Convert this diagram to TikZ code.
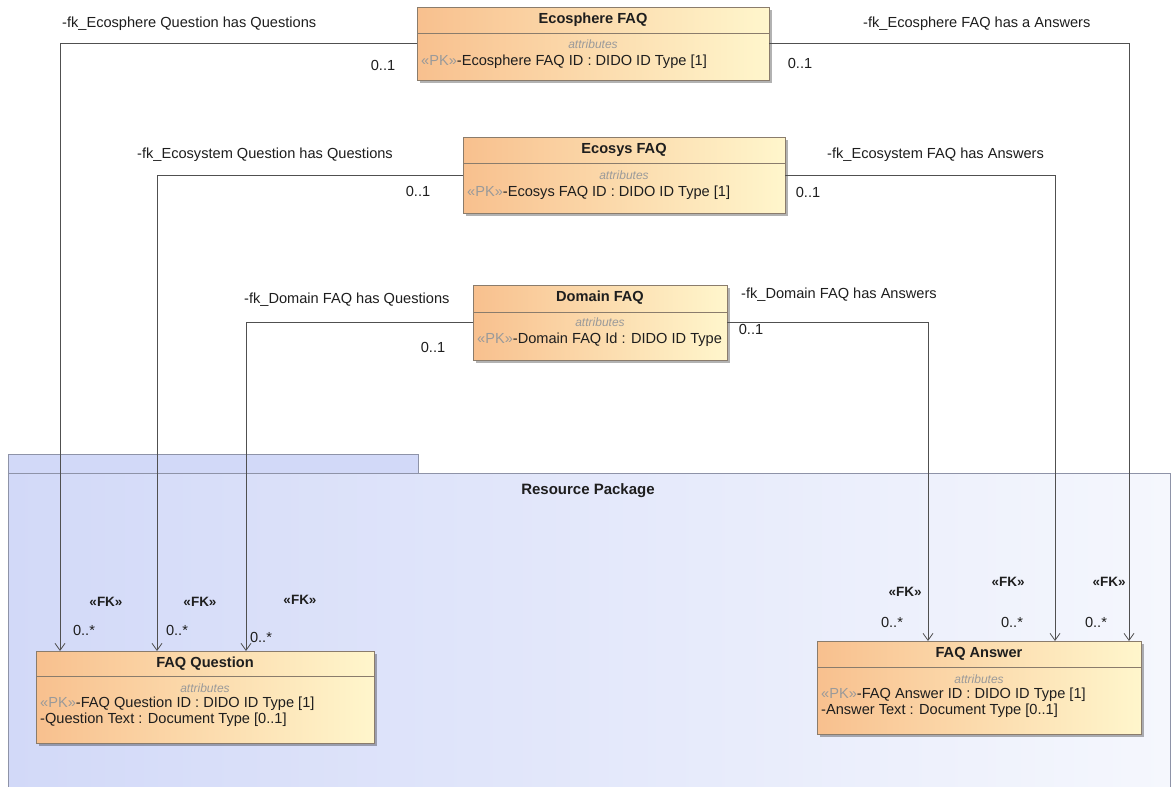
\documentclass[tikz,border=0pt]{standalone}
\usepackage{fontspec}
\setmainfont{Liberation Sans}
\usetikzlibrary{arrows.meta,shadows}
\definecolor{boxL}{HTML}{F8C08E}
\definecolor{boxR}{HTML}{FFF6CC}
\definecolor{boxline}{HTML}{8A7C6C}
\definecolor{pkgL}{HTML}{D2D9F8}
\definecolor{pkgR}{HTML}{F5F7FD}
\definecolor{pkgline}{HTML}{8E93A8}
\definecolor{txtgrey}{HTML}{9A9A9A}
\definecolor{txt}{HTML}{1E1E1E}
\definecolor{linegrey}{HTML}{505050}
\newcommand\pkmark{\textcolor{txtgrey}{«PK»}}
\begin{document}
\begin{tikzpicture}[x=1pt,y=-1pt,
  umlbox/.style={draw=boxline, line width=0.8pt, left color=boxL, right color=boxR,
    anchor=north west, inner sep=0pt, outer sep=0pt,
    drop shadow={shadow xshift=2.5pt, shadow yshift=-2.5pt, fill=black, opacity=0.3}},
  hdr/.style={draw=boxline, line width=0.8pt},
  boxtitle/.style={font=\bfseries\fontsize{14.6}{17}\selectfont, text=txt, inner sep=0pt},
  attr/.style={font=\itshape\fontsize{12}{14}\selectfont, text=txtgrey, inner sep=0pt},
  attrline/.style={font=\fontsize{14.6}{17}\selectfont, text=txt, inner sep=0pt, anchor=west},
  lbl/.style={font=\fontsize{14.6}{17}\selectfont, text=txt, inner sep=0pt},
  fk/.style={font=\bfseries\fontsize{13.5}{16}\selectfont, text=txt, inner sep=0pt},
  conn/.style={draw=linegrey, line width=0.8pt, -{Straight Barb[length=7pt,width=10pt]}},
  pkgtab/.style={draw=pkgline, line width=0.9pt, fill=pkgL},
  pkgbody/.style={draw=pkgline, line width=0.9pt, left color=pkgL, right color=pkgR}
]
\useasboundingbox (0,0) rectangle (1173,787);
\clip (0,0) rectangle (1173,787);
\fill[white] (0,0) rectangle (1173,787);

% package
\path[pkgtab] (8,454) rectangle (418,473);
\path[pkgbody] (8,473) rectangle (1170,800);
\node[font=\bfseries\fontsize{15}{18}\selectfont, text=txt, inner sep=0pt] (pkgname) at (588,491) {Resource Package};

% boxes
\node[umlbox, minimum width=352pt, minimum height=73pt] (esph) at (417,7) {};
\node[umlbox, minimum width=322pt, minimum height=76pt] (esys) at (463,137) {};
\node[umlbox, minimum width=254pt, minimum height=75pt] (dom) at (473,285) {};
\node[umlbox, minimum width=338pt, minimum height=92pt] (qbox) at (36,651) {};
\node[umlbox, minimum width=324pt, minimum height=93pt] (abox) at (817,641) {};

% header lines
\draw[hdr] ([yshift=-26pt]esph.north west) -- ([yshift=-26pt]esph.north east);
\draw[hdr] ([yshift=-26pt]esys.north west) -- ([yshift=-26pt]esys.north east);
\draw[hdr] ([yshift=-27pt]dom.north west) -- ([yshift=-27pt]dom.north east);
\draw[hdr] ([yshift=-25pt]qbox.north west) -- ([yshift=-25pt]qbox.north east);
\draw[hdr] ([yshift=-26pt]abox.north west) -- ([yshift=-26pt]abox.north east);

% box texts
\node[boxtitle] (esphT) at ([yshift=-13pt]esph.north) {Ecosphere FAQ};
\node[attr] (esphA) at ([yshift=-37pt]esph.north) {attributes};
\node[attrline] (esphP) at ([xshift=4pt,yshift=-55pt]esph.north west) {\pkmark-Ecosphere FAQ ID : DIDO ID Type [1]};

\node[boxtitle] (esysT) at ([yshift=-13pt]esys.north) {Ecosys FAQ};
\node[attr] (esysA) at ([yshift=-38pt]esys.north) {attributes};
\node[attrline] (esysP) at ([xshift=4pt,yshift=-56pt]esys.north west) {\pkmark-Ecosys FAQ ID : DIDO ID Type [1]};

\node[boxtitle] (domT) at ([yshift=-13pt]dom.north) {Domain FAQ};
\node[attr] (domA) at ([yshift=-37pt]dom.north) {attributes};
\node[attrline] (domP) at ([xshift=4pt,yshift=-55pt]dom.north west) {\pkmark-Domain FAQ Id : DIDO ID Type};

\node[boxtitle] (qT) at ([yshift=-12.5pt]qbox.north) {FAQ Question};
\node[attr] (qA) at ([yshift=-37pt]qbox.north) {attributes};
\node[attrline] (qP) at ([xshift=4pt,yshift=-53pt]qbox.north west) {\pkmark-FAQ Question ID : DIDO ID Type [1]};
\node[attrline] (qQ) at ([xshift=4pt,yshift=-69pt]qbox.north west) {-Question Text : Document Type [0..1]};

\node[boxtitle] (aT) at ([yshift=-13pt]abox.north) {FAQ Answer};
\node[attr] (aA) at ([yshift=-38pt]abox.north) {attributes};
\node[attrline] (aP) at ([xshift=4pt,yshift=-54pt]abox.north west) {\pkmark-FAQ Answer ID : DIDO ID Type [1]};
\node[attrline] (aQ) at ([xshift=4pt,yshift=-70pt]abox.north west) {-Answer Text : Document Type [0..1]};

% connectors
\draw[conn] (esph.west) -| ([xshift=24pt]qbox.north west);
\draw[conn] (esys.west) -| ([xshift=121pt]qbox.north west);
\draw[conn] (dom.west)  -| ([xshift=210pt]qbox.north west);
\draw[conn] (esph.east) -| ([xshift=312pt]abox.north west);
\draw[conn] (esys.east) -| ([xshift=238pt]abox.north west);
\draw[conn] (dom.east)  -| ([xshift=111pt]abox.north west);

% connector labels
\node[lbl, anchor=west] (l1) at (62,24) {-fk\_Ecosphere Question has Questions};
\node[lbl] (m1) at (383,65) {0..1};
\node[lbl, anchor=west] (l2) at (137,155) {-fk\_Ecosystem Question has Questions};
\node[lbl] (m2) at (418,191) {0..1};
\node[lbl, anchor=west] (l3) at (244,300) {-fk\_Domain FAQ has Questions};
\node[lbl] (m3) at (433,347) {0..1};
\node[lbl, anchor=west] (l4) at (863,24) {-fk\_Ecosphere FAQ has a Answers};
\node[lbl] (m4) at (800,63) {0..1};
\node[lbl, anchor=west] (l5) at (827,155) {-fk\_Ecosystem FAQ has Answers};
\node[lbl] (m5) at (808,192) {0..1};
\node[lbl, anchor=west] (l6) at (741,295) {-fk\_Domain FAQ has Answers};
\node[lbl] (m6) at (751,329) {0..1};

% FK stereotypes and multiplicities
\node[fk] (fk1) at (106,602) {«FK»};
\node[lbl] (n1) at (84,630) {0..*};
\node[fk] (fk2) at (200,602) {«FK»};
\node[lbl] (n2) at (177,630) {0..*};
\node[fk] (fk3) at (300,600) {«FK»};
\node[lbl] (n3) at (261,637) {0..*};
\node[fk] (fk4) at (905,592) {«FK»};
\node[lbl] (n4) at (892,622) {0..*};
\node[fk] (fk5) at (1008,582) {«FK»};
\node[lbl] (n5) at (1012,622) {0..*};
\node[fk] (fk6) at (1109,582) {«FK»};
\node[lbl] (n6) at (1096,622) {0..*};
\end{tikzpicture}
\end{document}
